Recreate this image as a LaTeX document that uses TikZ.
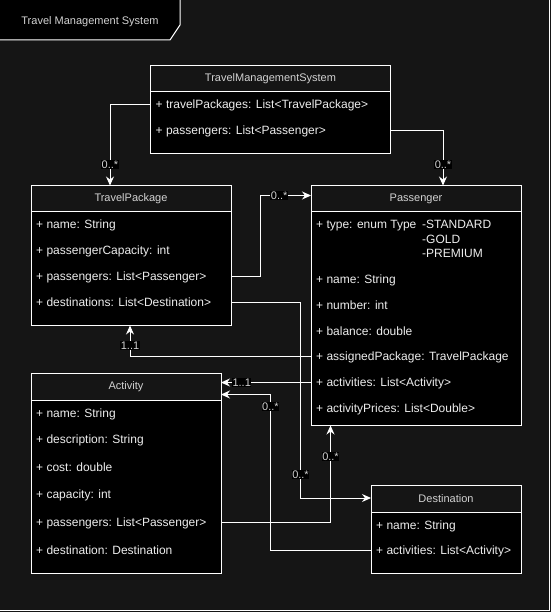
\documentclass[tikz,border=0pt]{standalone}
\usepackage{fontspec}
\setmainfont{Liberation Sans}
\usetikzlibrary{arrows.meta}
\definecolor{canvasgray}{HTML}{151515}
\definecolor{rowtext}{HTML}{EDEDED}
\definecolor{titletext}{HTML}{D2D2D2}
\begin{document}
\begin{tikzpicture}[x=1pt, y=-1pt,
    classbox/.style={draw=white, fill=black, line width=1pt, inner sep=0pt, outer sep=0pt, anchor=north west},
    headbar/.style={draw=white, fill=canvasgray, line width=1pt},
    classname/.style={text=titletext, inner sep=0pt, font=\fontsize{11}{13}\selectfont},
    member/.style={anchor=west, inner sep=0pt, text=rowtext, text height=8.6pt, text depth=0pt, font=\fontsize{12}{14}\selectfont},
    mult/.style={fill=black, text=titletext, inner sep=0.6pt, font=\fontsize{11}{12}\selectfont},
    assoc/.style={draw=white, line width=1pt, -{Stealth[length=9pt, width=8pt, inset=3pt]}}]
  \useasboundingbox (0,0) rectangle (551,612);
  \fill[canvasgray] (0,0) rectangle (551,612);
  \draw[white, line width=1pt] (-0.5,-0.5) rectangle (549.5,610.5);
  \filldraw[fill=black, draw=white, line width=1pt] (-0.5,-0.5) -- (180,-0.5) -- (180,25) -- (170,40) -- (-0.5,40) -- cycle;
  \node[classname] (frame-title) at (90,22) {Travel Management System};

  % TravelManagementSystem
  \node[classbox, minimum width=240pt, minimum height=88pt] (tms) at (150.5,65.5) {};
  \draw[headbar] (tms.north west) rectangle ([yshift=-26.5pt]tms.north east);
  \node[classname] (tms-name) at ([yshift=-13.5pt]tms.north) {TravelManagementSystem};
  \node[member] (tms-pkgs) at (155.5,104.5) {+ travelPackages: List<TravelPackage>};
  \node[member] (tms-pas) at (155.5,130.5) {+ passengers: List<Passenger>};

  % TravelPackage
  \node[classbox, minimum width=200pt, minimum height=140pt] (pkg) at (31,185.5) {};
  \draw[headbar] (pkg.north west) rectangle ([yshift=-26.5pt]pkg.north east);
  \node[classname] (pkg-name) at ([yshift=-13.5pt]pkg.north) {TravelPackage};
  \node[member] (pkg-nm) at (36,224.5) {+ name: String};
  \node[member] (pkg-cap) at (36,250.5) {+ passengerCapacity: int};
  \node[member] (pkg-pas) at (36,276.5) {+ passengers: List<Passenger>};
  \node[member] (pkg-dst) at (36,302.5) {+ destinations: List<Destination>};

  % Passenger
  \node[classbox, minimum width=210pt, minimum height=240pt] (pas) at (311,185.5) {};
  \draw[headbar] (pas.north west) rectangle ([yshift=-26.5pt]pas.north east);
  \node[classname] (pas-name) at ([yshift=-13.5pt]pas.north) {Passenger};
  \node[member] (pas-type) at (316,224.5) {+ type: enum Type};
  \node[member] (pas-std) at (422,224.5) {-STANDARD};
  \node[member] (pas-gold) at (422,239) {-GOLD};
  \node[member] (pas-prem) at (422,253) {-PREMIUM};
  \node[member] (pas-nm) at (316,279) {+ name: String};
  \node[member] (pas-num) at (316,305) {+ number: int};
  \node[member] (pas-bal) at (316,331) {+ balance: double};
  \node[member] (pas-asg) at (316,356.5) {+ assignedPackage: TravelPackage};
  \node[member] (pas-act) at (316,382.5) {+ activities: List<Activity>};
  \node[member] (pas-prc) at (316,408.5) {+ activityPrices: List<Double>};

  % Activity
  \node[classbox, minimum width=190pt, minimum height=200pt] (act) at (31,373.5) {};
  \draw[headbar] (act.north west) rectangle ([yshift=-26.5pt]act.north east);
  \node[classname] (act-name) at ([yshift=-13.5pt]act.north) {Activity};
  \node[member] (act-nm) at (36,413) {+ name: String};
  \node[member] (act-desc) at (36,439) {+ description: String};
  \node[member] (act-cost) at (36,467) {+ cost: double};
  \node[member] (act-cap) at (36,494.5) {+ capacity: int};
  \node[member] (act-pas) at (36,522.5) {+ passengers: List<Passenger>};
  \node[member] (act-dst) at (36,550.5) {+ destination: Destination};

  % Destination
  \node[classbox, minimum width=150pt, minimum height=88pt] (dst) at (371,485.5) {};
  \draw[headbar] (dst.north west) rectangle ([yshift=-26.5pt]dst.north east);
  \node[classname] (dst-name) at ([yshift=-13.5pt]dst.north) {Destination};
  \node[member] (dst-nm) at (376,525) {+ name: String};
  \node[member] (dst-act) at (376,550.5) {+ activities: List<Activity>};

  % associations
  \draw[assoc] (tms.west |- tms-pkgs) -| node[mult, pos=0.87] (m-tms-pkg) {0..*} ([xshift=79pt]pkg.north west);
  \draw[assoc] (tms.east |- tms-pas) -| node[mult, pos=0.81] (m-tms-pas) {0..*} ([xshift=132pt]pas.north west);
  \draw[assoc] (pkg.east |- pkg-pas) -| (260.5,195.5) -- node[mult, pos=0.37] (m-pkg-pas) {0..*} ([yshift=-10pt]pas.north west);
  \draw[assoc] (pkg.east |- pkg-dst) -| node[mult, pos=0.94] (m-pkg-dst) {0..*} (300.5,498) -- ([yshift=-12.5pt]dst.north west);
  \draw[assoc] (pas.west |- pas-asg) -| node[mult, pos=0.675] (m-pas-asg) {1..1} ([xshift=99pt]pkg.south west);
  \draw[assoc] (pas.west |- pas-act) -- node[mult, pos=0.77] (m-pas-act) {1..1} (act.east |- pas-act);
  \draw[assoc] (dst.west |- dst-act) -| node[mult, pos=0.96] (m-dst-act) {0..*} (270.5,394.5) -- ([yshift=-21pt]act.north east);
  \draw[assoc] (act.east |- act-pas) -| node[mult, pos=0.84] (m-act-pas) {0..*} ([xshift=19.5pt]pas.south west);
\end{tikzpicture}
\end{document}
